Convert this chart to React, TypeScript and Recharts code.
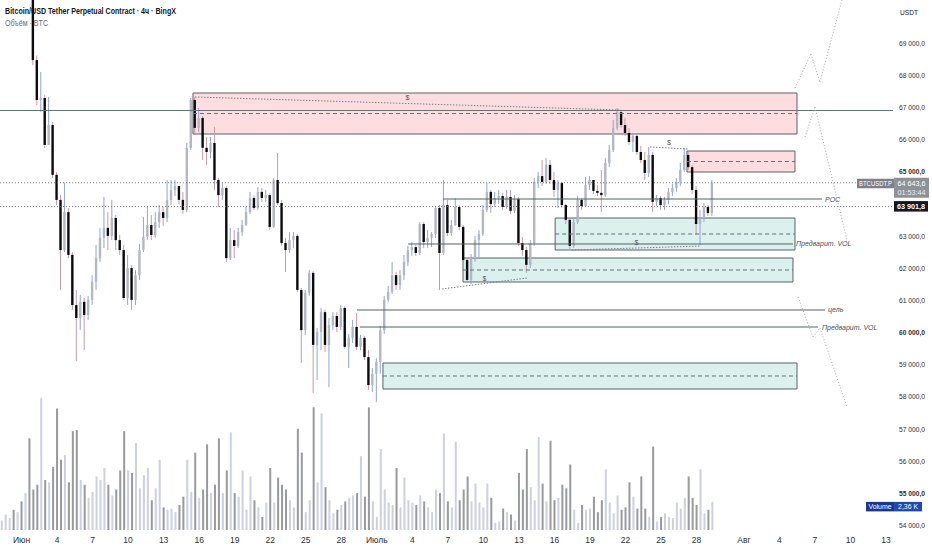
import React from 'react';
import { ComposedChart, Bar, XAxis, YAxis, ReferenceArea, ReferenceLine } from 'recharts';

// ---------- time axis (days since 1 June) ----------
const START_DAY = -5 / 3; // first 8h candle
const STEP = 1 / 3; // 8 hours
const X_DOMAIN: [number, number] = [-1.815, 76.88];
const X_TICKS = [0, 3, 6, 9, 12, 15, 18, 21, 24, 27, 30, 33, 36, 39, 42, 45, 48, 51, 54, 57, 61, 64, 67, 70, 73];
const X_LABELS = ['Июн', '4', '7', '10', '13', '16', '19', '22', '25', '28', 'Июль', '4', '7', '10', '13', '16', '19', '22', '25', '28', 'Авг', '4', '7', '10', '13'];

// ---------- price axis ----------
const Y_DOMAIN: [number, number] = [53843, 70328];
const PRICE_TICKS = [54000, 55000, 56000, 57000, 58000, 59000, 60000, 61000, 62000, 63000, 64000, 65000, 66000, 67000, 68000, 69000].filter((v) => v !== 64000);
const VOL_DOMAIN: [number, number] = [0, 44.5];

// ---------- OHLC (8h) ----------
const FIRST_OPEN = 70500;
const CLOSES = [
  70700, 70950, 71200, 70900, 71050, 70800, 70950, 70550,
  68460, 67220, 67280, 65820, 66440, 64890, 64110, 62550, 63730, 62400,
  60840, 60440, 60940, 60530, 61000, 61560, 62300, 62930, 63240, 62990,
  63550, 62860, 62550, 61060, 61990, 61000, 61770, 62550, 62960, 63330,
  63020, 63420, 63730, 63550, 64110, 64420, 64540, 64110, 63800, 65730,
  67220, 66350, 66660, 65730, 65600, 65880, 64730, 64260, 64480, 62300,
  62860, 62680, 63110, 63330, 63730, 64170, 63860, 64360, 64170, 64260,
  63270, 64730, 64010, 62770, 62550, 62860, 62990, 61310, 60060, 61220,
  61840, 59600, 60000, 60620, 59600, 60220, 60500, 60160, 60750, 59540,
  59820, 60160, 59540, 59820, 59220, 58350, 58700, 59070, 60060, 61000,
  61250, 61770, 61460, 61770, 62180, 62550, 62640, 62460, 63360, 62800,
  62930, 63050, 63860, 62460, 63950, 63080, 63330, 63890, 63270, 62240,
  61620, 62300, 62860, 63050, 63800, 64360, 63980, 64170, 64230, 63890,
  64200, 63770, 64140, 62770, 62550, 62090, 62770, 64670, 64850, 64670,
  65200, 64730, 64420, 64640, 63950, 63490, 62680, 63420, 64110, 63920,
  64570, 64730, 64390, 64330, 64260, 65260, 65660, 66350, 66840, 66440,
  66190, 65910, 66100, 65600, 65350, 64950, 65510, 64050, 64170, 63950,
  64110, 64360, 64480, 64670, 65040, 65510, 65130, 64420, 63360, 63550,
  63890, 63700, 64643.6,
];
const HIGHS = [
  70950, 71150, 71350, 71250, 71200, 71100, 71100, 71000,
  70700, 68600, 68090, 67370, 67310, 66530, 64980, 64260, 64640, 63860,
  62490, 61310, 61150, 61060, 61120, 61770, 62710, 63240, 64200, 63730,
  64110, 63640, 63020, 62710, 62400, 62080, 61930, 62740, 63580, 63890,
  63640, 63730, 63950, 63890, 64730, 64730, 64730, 64540, 64360, 65880,
  67280, 67310, 66970, 66720, 66070, 66070, 66380, 64790, 64640, 64540,
  63240, 63170, 63240, 63490, 63890, 64360, 64260, 64510, 64480, 64420,
  64320, 64790, 65570, 64110, 62930, 63110, 63110, 63050, 61370, 61310,
  61930, 61900, 60130, 60750, 60690, 60440, 60620, 60620, 60840, 60800,
  59940, 60380, 60590, 59910, 59880, 59440, 58880, 59190, 60190, 61120,
  61430, 62180, 61870, 61930, 62400, 62680, 62800, 62710, 63420, 63420,
  63170, 63110, 63920, 63950, 64730, 64110, 63490, 64170, 63950, 63330,
  62300, 62430, 62990, 63170, 63950, 64640, 64420, 64360, 64420, 64330,
  64420, 64420, 64260, 64200, 62960, 62650, 62860, 64790, 64980, 65350,
  65410, 65350, 64980, 64730, 64670, 63980, 63550, 63550, 64230, 64170,
  64820, 64850, 64730, 64570, 65040, 65410, 65820, 66600, 66970, 66910,
  66660, 66350, 66190, 66160, 65790, 65600, 65760, 65600, 64260, 64230,
  64200, 64480, 64610, 64790, 65260, 65730, 65600, 65200, 64540, 63800,
  64010, 63950, 64730,
];
const LOWS = [
  70450, 70600, 70850, 70750, 70800, 70650, 70700, 70450,
  68300, 67060, 66840, 65730, 65820, 64790, 63950, 61310, 62490, 62300,
  60690, 59100, 60060, 59440, 60380, 60840, 61310, 62180, 62610, 62550,
  62860, 62550, 62400, 61000, 60840, 60690, 60840, 61620, 62490, 62860,
  62860, 62930, 63240, 63300, 63420, 63950, 64230, 63980, 63670, 63730,
  65660, 66130, 66220, 65350, 65200, 65410, 64420, 63890, 64110, 62180,
  62240, 62300, 62610, 62990, 63300, 63670, 63800, 63800, 64050, 64050,
  63170, 63240, 63950, 62680, 61870, 62460, 62610, 61250, 59040, 59910,
  61130, 58100, 58510, 59440, 59380, 58290, 60060, 60000, 60060, 59480,
  58880, 59660, 59440, 59440, 59130, 58200, 58140, 57820, 58700, 59940,
  60940, 61180, 61310, 61310, 61620, 62050, 62370, 62370, 62400, 62610,
  62610, 62640, 62930, 61310, 62400, 62990, 62990, 63300, 63170, 62080,
  61530, 61490, 62180, 62330, 62990, 63730, 63700, 63890, 63980, 63800,
  63830, 63670, 63700, 62680, 62370, 61840, 61990, 62680, 64480, 64540,
  64610, 64610, 64200, 63860, 63860, 63360, 62550, 62620, 63360, 63800,
  63890, 64420, 64290, 64230, 63730, 64200, 65130, 65600, 66280, 66350,
  66100, 65820, 65600, 65510, 65260, 64730, 64820, 63730, 63920, 63800,
  63800, 63980, 64230, 64360, 64540, 64980, 65040, 64290, 63020, 62710,
  63420, 63610, 63610,
];
// volume, thousands of BTC
const VOLUMES = [
  0.8, 1.3, 1.0, 1.7, 1.5, 2.4, 3.1, 7.7,
  3.4, 3.8, 11.1, 4.2, 4.0, 5.3, 10.2, 5.9, 6.3, 4.0,
  8.3, 8.4, 4.2, 3.8, 2.7, 3.2, 4.5, 4.2, 5.2, 3.8,
  2.9, 3.4, 5.0, 8.3, 5.0, 4.8, 7.3, 3.5, 4.6, 5.2,
  2.5, 3.5, 5.9, 1.9, 1.7, 1.8, 1.5, 2.1, 2.8, 5.9,
  3.2, 6.5, 2.7, 3.4, 7.2, 3.1, 3.8, 7.7, 3.1, 5.0,
  8.2, 3.1, 2.8, 5.0, 1.7, 4.5, 2.5, 1.9, 1.1, 2.3,
  5.2, 2.3, 4.4, 3.8, 3.4, 2.5, 1.9, 8.5, 6.5, 1.5,
  2.5, 10.3, 4.0, 9.8, 3.6, 2.5, 1.4, 1.7, 2.1, 2.4,
  2.7, 2.9, 3.1, 6.2, 2.8, 10.3, 2.4, 1.1, 6.8, 3.4,
  2.3, 2.1, 5.2, 1.9, 4.4, 2.5, 2.3, 2.1, 2.9, 2.4,
  1.9, 1.5, 3.4, 3.1, 8.1, 2.4, 1.9, 7.4, 2.5, 3.4,
  4.5, 2.4, 3.9, 2.3, 1.9, 3.9, 2.7, 0.6, 0.7, 1.8,
  1.5, 1.3, 0.8, 4.8, 3.4, 6.8, 3.6, 2.5, 7.8, 3.9,
  2.4, 7.5, 2.5, 2.7, 3.8, 3.5, 5.5, 1.7, 0.6, 2.1,
  1.7, 1.8, 2.8, 1.5, 2.5, 5.1, 2.3, 1.4, 2.9, 1.7,
  1.9, 4.0, 2.8, 1.8, 4.5, 1.8, 1.1, 7.0, 0.7, 1.1,
  1.4, 1.1, 1.0, 2.3, 1.8, 2.7, 4.5, 2.7, 2.1, 5.1,
  1.4, 1.7, 2.36,
];

const LAST_PRICE = 64643.6;
const PREV_PRICE = 63901.8;
const LAST_VOLUME = 2.36;

// ---------- drawings (data units: day, price) ----------
const SUPPLY_ZONES = [
  { d1: 14.48, d2: 65.48, top: 67435, bottom: 66160, mid: 66797 },
  { d1: 56.19, d2: 65.31, top: 65631, bottom: 64978, mid: 65305 },
];
const DEMAND_ZONES = [
  { d1: 45.06, d2: 65.31, top: 63547, bottom: 62552, mid: 63050 },
  { d1: 37.28, d2: 65.14, top: 62303, bottom: 61557, mid: 61930 },
  { d1: 30.52, d2: 65.48, top: 59037, bottom: 58229, mid: 58633 },
];
const LEVELS = [
  { d1: 35.59, d2: 67.59, price: 64138, text: 'POC' },
  { d1: 32.63, d2: 65.14, price: 62739, text: 'Предварит. VOL' },
  { d1: 28.33, d2: 67.85, price: 60686, text: 'цель' },
  { d1: 28.58, d2: 67.25, price: 60157, text: 'Предварит. VOL' },
];
const KEY_LEVEL = { d1: -1.815, d2: 73.59, price: 66891 };
const SWEEPS = [
  { d1: 14.65, p1: 67311, d2: 50.54, p2: 66907 },
  { d1: 53.07, p1: 65756, d2: 56.28, p2: 65694 },
  { d1: 46.48, p1: 62552, d2: 57.38, p2: 62676 },
  { d1: 35.51, p1: 61339, d2: 42.68, p2: 61681 },
];
const PATHS = [
  [[65.31, 67591], [66.66, 68648], [67.42, 67777], [69.28, 70328]],
  [[66.16, 66067], [67.0, 67000], [69.7, 62863]],
  [[65.57, 61090], [66.83, 59846], [67.42, 60126], [69.7, 57669]],
];
const LINE_END_LAST = 70.55;
const LINE_END_PREV = 73.67;
const VOL_LABEL_DAY = 71.31;

// ---------- styles ----------
const FONT = "'Liberation Sans', Arial, sans-serif";
const UP_BODY = '#b4b7c1';
const UP_WICK = '#8fa4dc';
const DOWN_BODY = '#0b0b0f';
const DOWN_WICK = '#c99aa2';
const VOL_UP = '#cdd0e0';
const VOL_DOWN = '#999a9e';
const TEXT = '#2a2e39';

const rows = CLOSES.map((c, i) => ({
  t: START_DAY + i * STEP,
  o: i === 0 ? FIRST_OPEN : CLOSES[i - 1],
  c,
  h: HIGHS[i],
  l: LOWS[i],
  v: VOLUMES[i],
  range: [LOWS[i], HIGHS[i]],
}));

function Candle(props: any) {
  const { x, y, width, height, payload } = props;
  if (x == null || y == null || !payload) return null;
  const cx = x + width / 2;
  const top = Math.min(y, y + height);
  const bot = Math.max(y, y + height);
  const { o, c, h, l } = payload;
  const span = h - l || 1;
  const py = (p: number) => top + ((h - p) / span) * (bot - top);
  const up = c >= o;
  const bTop = py(Math.max(o, c));
  const bBot = py(Math.min(o, c));
  return (
    <g>
      <line x1={cx} x2={cx} y1={top} y2={bot} stroke={up ? UP_WICK : DOWN_WICK} strokeWidth={1} />
      <rect x={cx - 1.2} y={bTop} width={2.4} height={Math.max(1, bBot - bTop)} fill={up ? UP_BODY : DOWN_BODY} />
    </g>
  );
}

function VolBar(props: any) {
  const { x, y, width, height, payload } = props;
  if (x == null || y == null || !payload) return null;
  const cx = x + width / 2;
  const top = Math.min(y, y + height);
  const h = Math.abs(height);
  return <rect x={cx - 1} y={top} width={2} height={h} fill={payload.c >= payload.o ? VOL_UP : VOL_DOWN} />;
}

const fmtPrice = (v: number) => {
  const s = v.toFixed(1).replace('.', ',');
  const [ip, fp] = s.split(',');
  return ip.replace(/\B(?=(\d{3})+(?!\d))/g, ' ') + ',' + fp;
};

const PRICE_LABEL_X = 899;
function PriceTick(props: any) {
  const { y, payload } = props;
  const v = payload.value;
  const bold = v % 5000 === 0;
  return (
    <text x={PRICE_LABEL_X} y={y + 3} fontSize={8} fontFamily={FONT} fontWeight={bold ? 700 : 400} fill={TEXT} textLength={26} lengthAdjust="spacingAndGlyphs">
      {fmtPrice(v)}
    </text>
  );
}

function DateTick(props: any) {
  const { x, payload } = props;
  const idx = X_TICKS.indexOf(payload.value);
  return (
    <text x={x} y={543} textAnchor="middle" fontSize={8.5} fontFamily={FONT} fill={TEXT}>
      {X_LABELS[idx]}
    </text>
  );
}

const rightLabel = (text: string, dx: number) => (p: any) => {
  const vb = p.viewBox || {};
  return (
    <text x={vb.x + vb.width + dx} y={vb.y + 2.5} fontSize={7} fontStyle="italic" fontFamily={FONT} fill="#4a4e59">
      {text}
    </text>
  );
};

const dollarLabel = (p: any) => {
  const vb = p.viewBox || {};
  return (
    <text x={vb.x + vb.width / 2} y={vb.y + vb.height / 2 - 3} textAnchor="middle" fontSize={7} fontFamily={FONT} fill="#555">
      $
    </text>
  );
};

const lastPriceLabel = (p: any) => {
  const vb = p.viewBox || {};
  const x0 = vb.x + vb.width;
  const y0 = vb.y;
  return (
    <g fontFamily={FONT}>
      <rect x={x0} y={y0 - 4} width={37} height={9.5} fill="#7d808a" />
      <text x={x0 + 18.5} y={y0 + 3} textAnchor="middle" fontSize={7} fill="#fff" textLength={33} lengthAdjust="spacingAndGlyphs">BTCUSDT.P</text>
      <rect x={x0 + 37} y={y0 - 5} width={35} height={20} fill="#8e9199" />
      <text x={x0 + 54.5} y={y0 + 2.8} textAnchor="middle" fontSize={7.5} fill="#fff" textLength={28} lengthAdjust="spacingAndGlyphs">{fmtPrice(LAST_PRICE)}</text>
      <text x={x0 + 54.5} y={y0 + 12.5} textAnchor="middle" fontSize={7.5} fill="#eceef2" textLength={28} lengthAdjust="spacingAndGlyphs">01:53:44</text>
    </g>
  );
};

const prevPriceLabel = (p: any) => {
  const vb = p.viewBox || {};
  const x0 = vb.x + vb.width;
  const y0 = vb.y;
  return (
    <g fontFamily={FONT}>
      <rect x={x0} y={y0 - 5.5} width={34} height={10.5} fill="#131722" />
      <text x={x0 + 17} y={y0 + 2.8} textAnchor="middle" fontSize={7.5} fontWeight={700} fill="#fff" textLength={28} lengthAdjust="spacingAndGlyphs">{fmtPrice(PREV_PRICE)}</text>
    </g>
  );
};

const volumeLabel = (p: any) => {
  const vb = p.viewBox || {};
  const x0 = vb.x + vb.width;
  const y0 = vb.y;
  return (
    <g fontFamily={FONT}>
      <rect x={x0} y={y0} width={28} height={9.5} fill="#1a3597" />
      <text x={x0 + 14} y={y0 + 7} textAnchor="middle" fontSize={7} fill="#fff" textLength={23} lengthAdjust="spacingAndGlyphs">Volume</text>
      <rect x={x0 + 28} y={y0} width={28} height={9.5} fill="#2146b5" />
      <text x={x0 + 42} y={y0 + 7} textAnchor="middle" fontSize={7} fill="#fff" textLength={20} lengthAdjust="spacingAndGlyphs">{LAST_VOLUME.toFixed(2).replace('.', ',') + ' K'}</text>
    </g>
  );
};

export default function App() {
  const ax = { xAxisId: 'main', yAxisId: 'p' };
  return (
    <div style={{ position: 'absolute', left: 0, top: 0, width: 932, height: 550, background: '#fff' }}>
      <ComposedChart width={932} height={550} data={rows} margin={{ top: 0, right: 0, bottom: 0, left: 0 }}>
        <XAxis xAxisId="main" dataKey="t" type="number" domain={X_DOMAIN} allowDataOverflow ticks={X_TICKS} interval={0} tick={DateTick} tickLine={false} axisLine={false} height={20} />
        <XAxis xAxisId="vol" dataKey="t" type="number" domain={X_DOMAIN} allowDataOverflow hide />
        <YAxis yAxisId="p" orientation="right" mirror type="number" domain={Y_DOMAIN} allowDataOverflow ticks={PRICE_TICKS} interval={0} tick={PriceTick} tickLine={false} axisLine={false} />
        <YAxis yAxisId="v" type="number" hide domain={VOL_DOMAIN} allowDataOverflow />

        <Bar xAxisId="vol" yAxisId="v" dataKey="v" shape={VolBar} barSize={2} isAnimationActive={false} />

        {SUPPLY_ZONES.map((z, i) => (
          <ReferenceArea key={'s' + i} {...ax} x1={z.d1} x2={z.d2} y1={z.bottom} y2={z.top} fill="#f23645" fillOpacity={0.17} stroke="#5d606b" strokeWidth={1} ifOverflow="visible" />
        ))}
        {DEMAND_ZONES.map((z, i) => (
          <ReferenceArea key={'d' + i} {...ax} x1={z.d1} x2={z.d2} y1={z.bottom} y2={z.top} fill="#22ab94" fillOpacity={0.17} stroke="#5d606b" strokeWidth={1} ifOverflow="visible" />
        ))}

        <Bar {...ax} dataKey="range" shape={Candle} barSize={3} isAnimationActive={false} />

        {[...SUPPLY_ZONES, ...DEMAND_ZONES].map((z, i) => (
          <ReferenceLine key={'m' + i} {...ax} segment={[{ x: z.d1, y: z.mid }, { x: z.d2, y: z.mid }]} stroke="#6a6d78" strokeDasharray="4 3" strokeWidth={1} ifOverflow="visible" />
        ))}

        <ReferenceLine {...ax} segment={[{ x: KEY_LEVEL.d1, y: KEY_LEVEL.price }, { x: KEY_LEVEL.d2, y: KEY_LEVEL.price }]} stroke="#4e7f75" strokeWidth={1} ifOverflow="visible" />

        {LEVELS.map((lv, i) => (
          <ReferenceLine key={'l' + i} {...ax} segment={[{ x: lv.d1, y: lv.price }, { x: lv.d2, y: lv.price }]} stroke="#55625f" strokeWidth={1} ifOverflow="visible" label={rightLabel(lv.text, i === 3 ? 4 : 3)} />
        ))}

        {SWEEPS.map((s, i) => (
          <ReferenceLine key={'w' + i} {...ax} segment={[{ x: s.d1, y: s.p1 }, { x: s.d2, y: s.p2 }]} stroke="#7d808a" strokeDasharray="1.5 1.5" strokeWidth={1} ifOverflow="visible" label={dollarLabel} />
        ))}

        {PATHS.map((path, pi) =>
          path.slice(1).map((pt, j) => (
            <ReferenceLine key={'p' + pi + '-' + j} {...ax} segment={[{ x: path[j][0], y: path[j][1] }, { x: pt[0], y: pt[1] }]} stroke="#a3a6ae" strokeDasharray="1 2" strokeWidth={1} ifOverflow="visible" />
          ))
        )}

        <ReferenceLine {...ax} segment={[{ x: X_DOMAIN[0], y: LAST_PRICE }, { x: LINE_END_LAST, y: LAST_PRICE }]} stroke="#787b86" strokeDasharray="1 2" strokeWidth={1} ifOverflow="visible" label={lastPriceLabel} />
        <ReferenceLine {...ax} segment={[{ x: X_DOMAIN[0], y: PREV_PRICE }, { x: LINE_END_PREV, y: PREV_PRICE }]} stroke="#787b86" strokeDasharray="1 2" strokeWidth={1} ifOverflow="visible" label={prevPriceLabel} />
        <ReferenceLine xAxisId="vol" yAxisId="v" segment={[{ x: VOL_LABEL_DAY - 1, y: LAST_VOLUME }, { x: VOL_LABEL_DAY, y: LAST_VOLUME }]} stroke="none" ifOverflow="visible" label={volumeLabel} />
      </ComposedChart>
      <svg width={932} height={550} style={{ position: 'absolute', left: 0, top: 0, pointerEvents: 'none' }} fontFamily={FONT}>
        <text x={5} y={14} fontSize={8.5} fontWeight={600} fill="#131722" textLength={171} lengthAdjust="spacingAndGlyphs">Bitcoin/USD Tether Perpetual Contract · 4ч · BingX</text>
        <text x={5} y={25.5} fontSize={8.5} fill="#6a6d78" textLength={43} lengthAdjust="spacingAndGlyphs">Объём · BTC</text>
        <text x={900} y={15} fontSize={8} fill="#131722" textLength={18} lengthAdjust="spacingAndGlyphs">USDT</text>
      </svg>
    </div>
  );
}
